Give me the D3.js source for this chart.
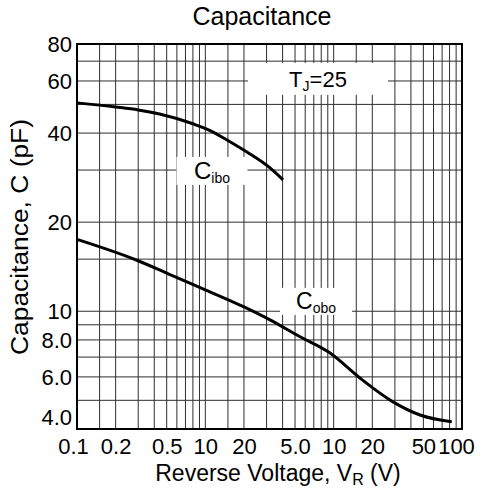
<!DOCTYPE html>
<html>
<head>
<meta charset="utf-8">
<script src="https://cdn.jsdelivr.net/npm/d3@7"></script>
<style>
body { margin: 0; background: #fff; }
text { font-family: "Liberation Sans", Arial, sans-serif; fill: #000; }
</style>
</head>
<body>
<div id="chart"></div>
<script>
// chart data
var xTicks = [0.1, 0.2, 0.5, 1, 2, 5, 10, 20, 50, 100];
var xTickLabels = ["0.1", "0.2", "0.5", "10", "20", "5.0", "10", "20", "50", "100"];
var yTicks = [80, 60, 40, 20, 10, 8, 6, 4];
var yTickLabels = ["80", "60", "40", "20", "10", "8.0", "6.0", "4.0"];

var xGrid = [0.15, 0.2, 0.3, 0.4, 0.5, 0.6, 0.7, 0.8, 0.9, 1, 1.5, 2, 3, 4, 5, 6, 7, 8, 9, 10,
             15, 20, 30, 40, 50, 60, 70, 80, 90];
var yGrid = [5, 6, 7, 8, 9, 10, 15, 20, 30, 40, 50, 60, 70];

var ciboVoltage = [0.1, 0.2, 0.3, 0.44, 0.8, 1.09, 1.475, 2.11, 3.19, 4.03];
var ciboCap = [50.6, 49.0, 47.9, 46.4, 43.0, 40.8, 37.9, 34.5, 30.5, 27.8];

var coboVoltage = [0.1, 0.29, 0.53, 0.96, 2.04, 3.19, 5.47, 9.37, 16.0, 29.0, 47.1, 83.2];
var coboCap = [17.5, 14.9, 13.3, 11.9, 10.3, 9.35, 8.2, 7.22, 5.95, 4.94, 4.46, 4.23];

var svgWidth = 486;
var svgHeight = 491;
var margin = { top: 44, right: 24, bottom: 62, left: 77 };
var width = svgWidth - margin.left - margin.right;
var height = svgHeight - margin.top - margin.bottom;

var svg = d3.select("#chart").append("svg").attr("width", svgWidth).attr("height", svgHeight);
var chartGroup = svg.append("g").attr("transform", `translate(${margin.left},${margin.top})`);

// scales
var xScale = d3.scaleLog().domain([0.1, 100]).range([0, width]);
var yScale = d3.scaleLog().domain([4, 80]).range([height, 0]);

// grid
chartGroup.selectAll(".vgrid").data(xGrid).enter().append("line")
  .attr("x1", d => xScale(d)).attr("x2", d => xScale(d))
  .attr("y1", 0).attr("y2", height)
  .attr("stroke", "#2e2e2e").attr("stroke-width", 1);

chartGroup.selectAll(".hgrid").data(yGrid).enter().append("line")
  .attr("x1", 0).attr("x2", width)
  .attr("y1", d => yScale(d)).attr("y2", d => yScale(d))
  .attr("stroke", "#2e2e2e").attr("stroke-width", 1);

// labels inside the plot, on white boxes that cut the grid
var notes = [
  { main: "T", sub: "J", tail: "=25", v: 7.55, c: 61, w: 140, h: 32, size: 22 },
  { main: "C", sub: "ibo", tail: "", v: 1.127, c: 29.8, w: 71, h: 28, size: 24 },
  { main: "C", sub: "obo", tail: "", v: 7.29, c: 10.8, w: 72, h: 27, size: 23 }
];

notes.forEach(function(n) {
  var cx = xScale(n.v), cy = yScale(n.c);
  chartGroup.append("rect")
    .attr("x", cx - n.w / 2).attr("y", cy - n.h / 2)
    .attr("width", n.w).attr("height", n.h)
    .attr("fill", "#fff");
  var t = chartGroup.append("text")
    .attr("x", cx).attr("y", cy + 8)
    .attr("text-anchor", "middle")
    .style("font-size", n.size + "px");
  t.append("tspan").text(n.main);
  t.append("tspan").attr("dy", 4).style("font-size", "14px").text(n.sub);
  if (n.tail) t.append("tspan").attr("dy", -4).text(n.tail);
});

// frame
chartGroup.append("rect")
  .attr("width", width).attr("height", height)
  .attr("fill", "none").attr("stroke", "#000").attr("stroke-width", 2);

// curves
var line = d3.line()
  .x(d => xScale(d[0]))
  .y(d => yScale(d[1]))
  .curve(d3.curveMonotoneX);

var ciboData = ciboVoltage.map((v, i) => [v, ciboCap[i]]);
var coboData = coboVoltage.map((v, i) => [v, coboCap[i]]);

[ciboData, coboData].forEach(function(data) {
  chartGroup.append("path").datum(data)
    .attr("d", line)
    .attr("fill", "none").attr("stroke", "#000").attr("stroke-width", 3);
});

// axes
var bottomAxis = d3.axisBottom(xScale).tickValues(xTicks)
  .tickFormat((d, i) => xTickLabels[i]).tickSize(0).tickPadding(9);
var leftAxis = d3.axisLeft(yScale).tickValues(yTicks)
  .tickFormat((d, i) => yTickLabels[i]).tickSize(0).tickPadding(5);

var xAxisG = chartGroup.append("g").attr("transform", `translate(0,${height})`).call(bottomAxis);
var yAxisG = chartGroup.append("g").call(leftAxis);

[xAxisG, yAxisG].forEach(function(g) {
  g.select(".domain").remove();
  g.selectAll("text").style("font-size", "22px").attr("fill", "#000")
    .style("font-family", "'Liberation Sans', Arial, sans-serif");
});

// nudge crowded labels like the original
xAxisG.selectAll(".tick text").attr("dx", (d, i) => i === 0 ? -4 : (i === xTicks.length - 1 ? -6 : 0));
yAxisG.selectAll(".tick text").attr("dy", (d, i) => i === yTicks.length - 1 ? "-0.2em" : "0.34em");

// titles
svg.append("text")
  .attr("x", 262).attr("y", 25)
  .attr("text-anchor", "middle")
  .style("font-size", "25px")
  .text("Capacitance");

var xTitle = svg.append("text")
  .attr("x", 278).attr("y", 481)
  .attr("text-anchor", "middle")
  .style("font-size", "23px");
xTitle.append("tspan").text("Reverse Voltage, V");
xTitle.append("tspan").attr("dy", 4).style("font-size", "16px").text("R");
xTitle.append("tspan").attr("dy", -4).text(" (V)");

svg.append("text")
  .attr("transform", "translate(28,237) rotate(-90)")
  .attr("text-anchor", "middle")
  .attr("textLength", 236)
  .attr("lengthAdjust", "spacingAndGlyphs")
  .style("font-size", "23px")
  .text("Capacitance, C (pF)");
</script>
</body>
</html>
